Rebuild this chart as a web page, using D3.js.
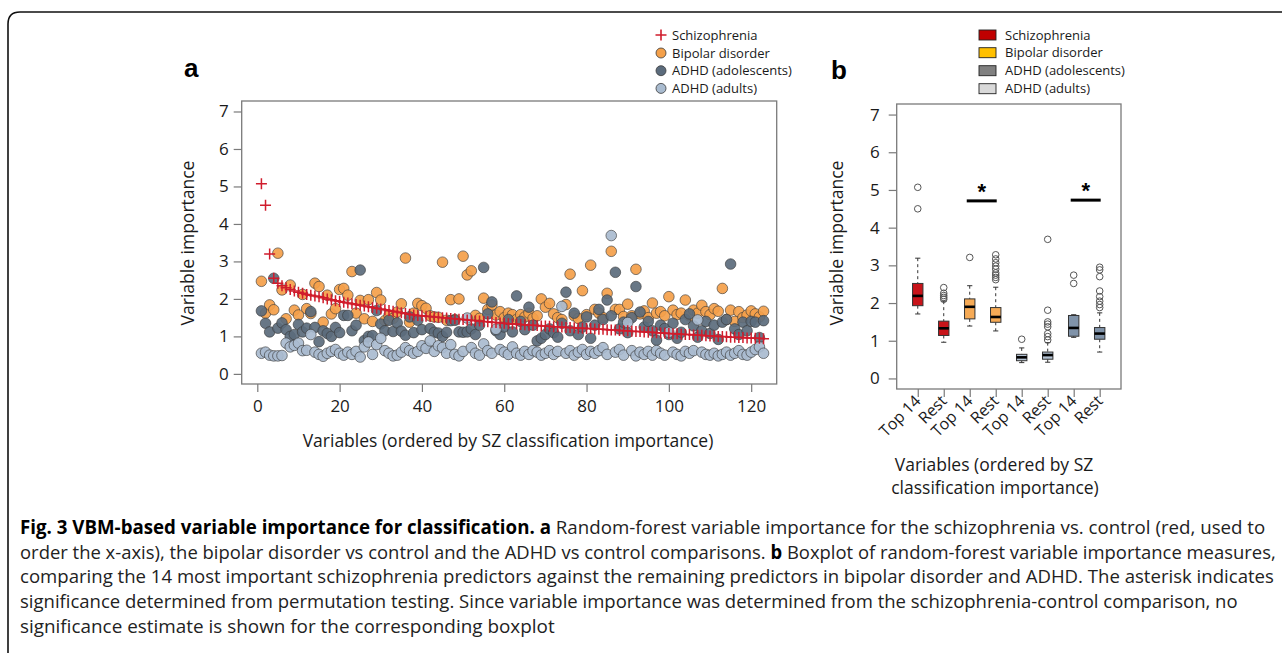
<!DOCTYPE html>
<html>
<head>
<meta charset="utf-8">
<script src="https://cdn.jsdelivr.net/npm/d3@7"></script>
<style>
  body { margin: 0; background: #fff; }
  svg { display: block; }
</style>
</head>
<body>
<script>
// ---- panel a data (variable index 1..123, ordered by SZ importance) ----
const szImportance = [
  5.07, 4.50, 3.20, 2.55, 2.42, 2.35, 2.30, 2.25, 2.21, 2.18,
  2.15, 2.12, 2.10, 2.08, 2.06, 2.03, 2.00, 1.98, 1.95, 1.93,
  1.91, 1.89, 1.87, 1.85, 1.83, 1.81, 1.79, 1.77, 1.75, 1.73,
  1.71, 1.69, 1.67, 1.65, 1.63, 1.61, 1.59, 1.57, 1.56, 1.55,
  1.54, 1.53, 1.52, 1.51, 1.50, 1.49, 1.48, 1.47, 1.46, 1.45,
  1.44, 1.43, 1.42, 1.41, 1.40, 1.39, 1.38, 1.37, 1.36, 1.35,
  1.34, 1.33, 1.33, 1.32, 1.31, 1.30, 1.30, 1.29, 1.28, 1.28,
  1.27, 1.26, 1.26, 1.25, 1.24, 1.24, 1.23, 1.22, 1.22, 1.21,
  1.21, 1.20, 1.19, 1.19, 1.18, 1.17, 1.17, 1.16, 1.15, 1.15,
  1.14, 1.13, 1.13, 1.12, 1.11, 1.11, 1.10, 1.09, 1.09, 1.08,
  1.07, 1.07, 1.06, 1.05, 1.05, 1.04, 1.03, 1.03, 1.02, 1.01,
  1.01, 1.00, 1.00, 0.99, 0.98, 0.98, 0.97, 0.97, 0.96, 0.96,
  0.95, 0.95, 0.94
];
const bdImportance = [
  2.47, 1.62, 1.84, 1.71, 3.22, 2.24, 1.47, 2.37, 1.70, 1.57,
  2.12, 1.74, 1.61, 2.42, 2.33, 1.38, 2.10, 1.60, 1.74, 2.25,
  2.28, 2.10, 2.73, 1.62, 1.96, 1.47, 1.98, 1.40, 2.17, 1.97,
  1.42, 1.56, 1.48, 1.65, 1.87, 3.09, 1.38, 1.62, 1.88, 1.82,
  1.75, 1.55, 1.52, 1.51, 2.98, 1.43, 1.98, 1.45, 2.00, 3.14,
  2.64, 2.75, 1.56, 1.48, 2.02, 1.72, 1.84, 1.57, 1.66, 1.50,
  1.62, 1.58, 1.45, 1.58, 1.52, 1.62, 1.48, 1.55, 2.00, 1.78,
  1.88, 1.60, 1.50, 1.45, 1.85, 2.66, 1.55, 1.48, 2.22, 1.58,
  2.90, 1.72, 1.62, 1.50, 2.15, 3.27, 1.72, 1.72, 1.53, 1.86,
  1.55, 2.79, 1.60, 1.68, 1.50, 1.89, 1.62, 1.66, 1.55, 2.06,
  1.70, 1.58, 1.62, 1.97, 1.55, 1.70, 1.62, 1.83, 1.66, 1.58,
  1.74, 1.67, 2.28, 1.45, 1.70, 1.40, 1.66, 1.50, 1.57, 1.68,
  1.60, 1.52, 1.67
];
const adolImportance = [
  1.68, 1.35, 1.12, 2.55, 1.22, 1.36, 1.18, 1.00, 1.05, 1.32,
  1.12, 1.22, 1.66, 1.24, 0.86, 1.15, 1.08, 1.00, 1.24, 1.10,
  1.56, 1.56, 1.15, 1.30, 2.77, 0.89, 1.00, 1.02, 1.69, 1.33,
  1.15, 1.43, 1.13, 1.36, 1.14, 1.03, 1.52, 1.10, 1.43, 1.18,
  0.71, 1.21, 1.11, 1.09, 1.00, 1.11, 1.42, 1.43, 1.12, 1.11,
  1.12, 1.20, 1.05, 1.30, 2.84, 1.60, 1.92, 1.15, 1.05, 1.25,
  1.45, 1.12, 2.08, 1.40, 1.18, 1.78, 1.30, 0.88, 0.95, 1.05,
  1.20, 1.10, 0.98, 1.35, 2.18, 1.15, 1.62, 1.05, 1.25, 1.52,
  0.95, 1.30, 1.72, 1.45, 1.97, 1.55, 2.71, 1.20, 1.38, 1.10,
  1.50, 2.33, 1.65, 1.25, 1.40, 1.15, 0.90, 1.30, 1.21, 1.05,
  1.35, 0.95, 1.11, 1.45, 1.60, 1.28, 0.98, 1.15, 1.40, 1.08,
  1.30, 0.92, 1.38, 1.45, 2.93, 1.20, 1.05, 1.38, 1.15, 1.40,
  1.38, 0.97, 1.42
];
const adultImportance = [
  0.55, 0.58, 0.50, 0.48, 0.48, 0.49, 0.82, 0.72, 0.76, 0.82,
  0.62, 0.63, 1.05, 0.58, 0.52, 0.47, 0.55, 0.60, 0.65, 0.55,
  0.50, 0.58, 0.52, 0.60, 0.45, 0.72, 0.85, 0.52, 0.78, 0.95,
  0.62, 0.55, 0.48, 0.50, 0.58, 0.70, 0.62, 0.55, 0.60, 0.75,
  0.68, 0.88, 0.60, 0.75, 0.70, 0.55, 0.78, 0.52, 0.48, 0.60,
  1.49, 0.70, 0.55, 0.50, 0.80, 0.62, 0.55, 1.19, 0.65, 0.58,
  0.52, 0.72, 0.55, 0.50, 0.60, 0.52, 0.62, 0.58, 0.50, 0.55,
  0.62, 0.52, 0.60, 1.80, 0.55, 0.62, 0.50, 0.58, 0.65, 0.52,
  0.60, 0.55, 0.62, 0.70, 0.52, 3.69, 0.58, 0.65, 0.50, 1.37,
  0.62, 0.48, 0.58, 0.52, 0.60, 0.50, 0.62, 0.55, 0.50, 1.11,
  0.58, 0.52, 0.48, 0.60, 0.55, 0.62, 1.44, 0.58, 0.52, 0.50,
  0.55, 0.48, 0.52, 0.58, 0.50, 0.55, 0.62, 0.52, 0.50, 0.58,
  0.65, 0.72, 0.55
];
const xTicksA = [0, 20, 40, 60, 80, 100, 120];
const yTicks = [0, 1, 2, 3, 4, 5, 6, 7];

// ---- panel b data (boxplot summaries) ----
const boxLabels = ["Top 14", "Rest", "Top 14", "Rest", "Top 14", "Rest", "Top 14", "Rest"];
const boxGroup = ["sz", "sz", "bd", "bd", "adult", "adult", "adol", "adol"];
const boxLow = [1.71, 0.96, 1.39, 1.26, 0.42, 0.43, 1.09, 0.70];
const boxQ1 = [1.93, 1.14, 1.58, 1.49, 0.47, 0.51, 1.12, 1.04];
const boxMedian = [2.19, 1.33, 1.90, 1.63, 0.56, 0.62, 1.34, 1.19];
const boxQ3 = [2.52, 1.52, 2.11, 1.88, 0.64, 0.70, 1.67, 1.35];
const boxHigh = [3.19, 2.05, 2.46, 2.42, 0.81, 0.95, 1.69, 1.74];
const boxOutliers = [
  [5.07, 4.50],
  [2.41, 2.26, 2.20, 2.15, 2.10],
  [3.21],
  [3.28, 3.17, 3.07, 2.98, 2.90, 2.80, 2.74, 2.68, 2.62],
  [1.04],
  [3.69, 1.81, 1.50, 1.44, 1.37, 1.19, 1.11, 1.02],
  [2.74, 2.52],
  [2.95, 2.88, 2.70, 2.32, 2.17, 2.05, 1.96, 1.88]
];
// pairs marked significant (box positions) and the bar height
const sigPairs = [[3, 4], [7, 8]];
const sigLevel = [4.71, 4.73];

const legendNames = ["Schizophrenia", "Bipolar disorder", "ADHD (adolescents)", "ADHD (adults)"];

const captionLines = [
  [["Fig. 3 VBM-based variable importance for classification.", true], [" ", false], ["a", true], [" Random-forest variable importance for the schizophrenia vs. control (red, used to", false]],
  [["order the x-axis), the bipolar disorder vs control and the ADHD vs control comparisons. ", false], ["b", true], [" Boxplot of random-forest variable importance measures,", false]],
  [["comparing the 14 most important schizophrenia predictors against the remaining predictors in bipolar disorder and ADHD. The asterisk indicates", false]],
  [["significance determined from permutation testing. Since variable importance was determined from the schizophrenia-control comparison, no", false]],
  [["significance estimate is shown for the corresponding boxplot", false]]
];
const captionWidths = [1246, 1256, 1255, 1218, 535];

// colours
const szRed = "#d01c2c";
const dotFill = { bd: "#f4a04a", adol: "#5b6b7c", adult: "#a9bbcf" };
const boxFill = { sz: "#c8141a", bd: "#f6aa55", adult: "#b3c2d3", adol: "#8093a9" };
const legendSwatch = ["#c00000", "#ffc000", "#808080", "#d9d9d9"];
const chartFont = "'Open Sans', 'Noto Sans', sans-serif";

const svg = d3.select("body").append("svg")
  .attr("width", 1282)
  .attr("height", 653)
  .style("font-family", chartFont);

// figure frame (rounded top-left corner)
svg.append("path")
  .attr("d", "M8,660 L8,24 Q8,12 20,12 L1290,12")
  .attr("fill", "none")
  .attr("stroke", "#111")
  .attr("stroke-width", 1.6);

// ================= panel a =================
const xA = d3.scaleLinear().domain([-3.79, 126.2]).range([241.7, 776.7]);
const yA = d3.scaleLinear().domain([-0.27, 7.28]).range([384, 101]);
const idx = szImportance.map((d, i) => i + 1);

const ga = svg.append("g");

ga.append("rect")
  .attr("x", xA.range()[0]).attr("y", yA.range()[1])
  .attr("width", xA.range()[1] - xA.range()[0])
  .attr("height", yA.range()[0] - yA.range()[1])
  .attr("fill", "none").attr("stroke", "#7a7a7a").attr("stroke-width", 1.3);

const axA_y = ga.append("g")
  .attr("transform", `translate(${xA.range()[0]},0)`)
  .call(d3.axisLeft(yA).tickValues(yTicks).tickSize(8).tickPadding(5).tickFormat(d3.format("d")));
const axA_x = ga.append("g")
  .attr("transform", `translate(0,${yA.range()[0]})`)
  .call(d3.axisBottom(xA).tickValues(xTicksA).tickSize(8).tickPadding(8).tickFormat(d3.format("d")));
[axA_y, axA_x].forEach(ax => {
  ax.select(".domain").remove();
  ax.selectAll("line").attr("stroke", "#7a7a7a").attr("stroke-width", 1.2);
  ax.selectAll("text").attr("fill", "#1a1a1a").style("font-size", "17px").style("font-family", chartFont);
});

// circle series
const series = [
  { key: "bd", values: bdImportance },
  { key: "adol", values: adolImportance },
  { key: "adult", values: adultImportance }
];
series.forEach(s => {
  ga.append("g").selectAll("circle")
    .data(idx)
    .join("circle")
    .attr("cx", i => xA(i))
    .attr("cy", i => yA(s.values[i - 1]))
    .attr("r", 5.3)
    .attr("fill", dotFill[s.key])
    .attr("fill-opacity", 0.92)
    .attr("stroke", "#3a3a3a")
    .attr("stroke-opacity", 0.8)
    .attr("stroke-width", 0.8);
});

// schizophrenia "+" markers on top
ga.append("g").selectAll("path")
  .data(idx)
  .join("path")
  .attr("d", i => {
    const cx = xA(i), cy = yA(szImportance[i - 1]);
    return `M${cx - 5.5},${cy}H${cx + 5.5}M${cx},${cy - 5.5}V${cy + 5.5}`;
  })
  .attr("stroke", szRed)
  .attr("stroke-width", 1.5);

ga.append("text")
  .attr("transform", "translate(194,243) rotate(-90)")
  .attr("text-anchor", "middle")
  .style("font-size", "17.5px")
  .attr("fill", "#1a1a1a")
  .text("Variable importance");
ga.append("text")
  .attr("x", 508).attr("y", 447)
  .attr("text-anchor", "middle")
  .style("font-size", "17.5px")
  .attr("fill", "#1a1a1a")
  .text("Variables (ordered  by SZ classification importance)");

ga.append("text")
  .attr("x", 184).attr("y", 77)
  .style("font-family", "'Liberation Sans', Arial, sans-serif")
  .style("font-size", "26px").style("font-weight", "bold")
  .text("a");

// legend a
const legA = ga.append("g").style("font-size", "13px");
const legAy = [35, 53, 70.7, 88.4];
legA.append("path")
  .attr("d", `M655.5,${legAy[0]}H666.5M661,${legAy[0] - 5.5}V${legAy[0] + 5.5}`)
  .attr("stroke", szRed).attr("stroke-width", 1.6);
["bd", "adol", "adult"].forEach((k, j) => {
  legA.append("circle")
    .attr("cx", 661).attr("cy", legAy[j + 1]).attr("r", 5)
    .attr("fill", dotFill[k]).attr("stroke", "#3a3a3a").attr("stroke-width", 0.8);
});
legA.selectAll("text")
  .data(legendNames)
  .join("text")
  .attr("x", 672).attr("y", (d, j) => legAy[j] + 4.5)
  .attr("fill", "#1a1a1a")
  .text(d => d);

// ================= panel b =================
const pos = boxLabels.map((d, i) => i + 1);
const xB = d3.scaleLinear().domain([0.19, 8.82]).range([896.7, 1121]);
const yB = d3.scaleLinear().domain([-0.28, 7.28]).range([389, 104]);
const boxW = xB(1.4) - xB(1);

const gb = svg.append("g");

gb.append("rect")
  .attr("x", xB.range()[0]).attr("y", yB.range()[1])
  .attr("width", xB.range()[1] - xB.range()[0])
  .attr("height", yB.range()[0] - yB.range()[1])
  .attr("fill", "none").attr("stroke", "#7a7a7a").attr("stroke-width", 1.3);

const axB_y = gb.append("g")
  .attr("transform", `translate(${xB.range()[0]},0)`)
  .call(d3.axisLeft(yB).tickValues(yTicks).tickSize(8).tickPadding(9).tickFormat(d3.format("d")));
const axB_x = gb.append("g")
  .attr("transform", `translate(0,${yB.range()[0]})`)
  .call(d3.axisBottom(xB).tickValues(pos).tickSize(8).tickFormat(""));
[axB_y, axB_x].forEach(ax => {
  ax.select(".domain").remove();
  ax.selectAll("line").attr("stroke", "#7a7a7a").attr("stroke-width", 1.2);
  ax.selectAll("text").attr("fill", "#1a1a1a").style("font-size", "17px").style("font-family", chartFont);
});

// rotated category labels
gb.selectAll("text.cat")
  .data(pos)
  .join("text")
  .attr("class", "cat")
  .attr("transform", p => `translate(${xB(p) + 4},${yB.range()[0] + 13}) rotate(-45)`)
  .attr("text-anchor", "end")
  .style("font-size", "16px")
  .attr("fill", "#1a1a1a")
  .text(p => boxLabels[p - 1]);

// boxes
const boxes = gb.selectAll("g.box")
  .data(pos)
  .join("g")
  .attr("class", "box");

boxes.append("line")
  .attr("x1", p => xB(p)).attr("x2", p => xB(p))
  .attr("y1", p => yB(boxHigh[p - 1])).attr("y2", p => yB(boxQ3[p - 1]))
  .attr("stroke", "#333").attr("stroke-dasharray", "3,3");
boxes.append("line")
  .attr("x1", p => xB(p)).attr("x2", p => xB(p))
  .attr("y1", p => yB(boxQ1[p - 1])).attr("y2", p => yB(boxLow[p - 1]))
  .attr("stroke", "#333").attr("stroke-dasharray", "3,3");
boxes.append("line")
  .attr("x1", p => xB(p) - boxW / 4).attr("x2", p => xB(p) + boxW / 4)
  .attr("y1", p => yB(boxHigh[p - 1])).attr("y2", p => yB(boxHigh[p - 1]))
  .attr("stroke", "#333");
boxes.append("line")
  .attr("x1", p => xB(p) - boxW / 4).attr("x2", p => xB(p) + boxW / 4)
  .attr("y1", p => yB(boxLow[p - 1])).attr("y2", p => yB(boxLow[p - 1]))
  .attr("stroke", "#333");
boxes.append("rect")
  .attr("x", p => xB(p) - boxW / 2)
  .attr("width", boxW)
  .attr("y", p => yB(boxQ3[p - 1]))
  .attr("height", p => yB(boxQ1[p - 1]) - yB(boxQ3[p - 1]))
  .attr("fill", p => boxFill[boxGroup[p - 1]])
  .attr("stroke", "#333").attr("stroke-width", 1);
boxes.append("line")
  .attr("x1", p => xB(p) - boxW / 2).attr("x2", p => xB(p) + boxW / 2)
  .attr("y1", p => yB(boxMedian[p - 1])).attr("y2", p => yB(boxMedian[p - 1]))
  .attr("stroke", "#000").attr("stroke-width", 2.6);
boxes.each(function(p) {
  d3.select(this).selectAll("circle")
    .data(boxOutliers[p - 1])
    .join("circle")
    .attr("cx", xB(p))
    .attr("cy", v => yB(v))
    .attr("r", 3.3)
    .attr("fill", "none")
    .attr("stroke", "#555")
    .attr("stroke-width", 1);
});

// significance bars
sigPairs.forEach((pr, j) => {
  gb.append("line")
    .attr("x1", xB(pr[0]) - 3).attr("x2", xB(pr[1]) + 1)
    .attr("y1", yB(sigLevel[j])).attr("y2", yB(sigLevel[j]))
    .attr("stroke", "#000").attr("stroke-width", 3);
  gb.append("text")
    .attr("x", (xB(pr[0]) + xB(pr[1])) / 2 - 1)
    .attr("y", yB(sigLevel[j]) - 2)
    .attr("text-anchor", "middle")
    .style("font-family", "'Liberation Sans', Arial, sans-serif")
    .style("font-size", "22px").style("font-weight", "bold")
    .text("*");
});

gb.append("text")
  .attr("transform", "translate(843,243) rotate(-90)")
  .attr("text-anchor", "middle")
  .style("font-size", "17.5px")
  .attr("fill", "#1a1a1a")
  .text("Variable importance");
gb.append("text")
  .attr("x", 994).attr("y", 471)
  .attr("text-anchor", "middle")
  .style("font-size", "17.5px")
  .attr("fill", "#1a1a1a")
  .text("Variables (ordered  by SZ");
gb.append("text")
  .attr("x", 995).attr("y", 494)
  .attr("text-anchor", "middle")
  .style("font-size", "17.5px")
  .attr("fill", "#1a1a1a")
  .text("classification importance)");

gb.append("text")
  .attr("x", 831).attr("y", 79)
  .style("font-family", "'Liberation Sans', Arial, sans-serif")
  .style("font-size", "26px").style("font-weight", "bold")
  .text("b");

// legend b
const legB = gb.append("g").style("font-size", "13px");
const legBy = [35, 52.7, 70.7, 88.7];
legB.selectAll("rect")
  .data(legendSwatch)
  .join("rect")
  .attr("x", 979).attr("y", (d, j) => legBy[j] - 5)
  .attr("width", 17).attr("height", 10)
  .attr("fill", d => d)
  .attr("stroke", "#222").attr("stroke-width", 0.9);
legB.selectAll("text")
  .data(legendNames)
  .join("text")
  .attr("x", 1005).attr("y", (d, j) => legBy[j] + 4.5)
  .attr("fill", "#1a1a1a")
  .text(d => d);

// ================= caption =================
// each line is squeezed horizontally to the width it has in the figure
const cap = svg.append("g")
  .style("font-family", "'Open Sans', 'Noto Sans', sans-serif")
  .style("font-size", "19px");
captionLines.forEach((segs, k) => {
  const t = cap.append("text")
    .attr("x", 0)
    .attr("y", 0)
    .attr("fill", "#222");
  segs.forEach(s => {
    t.append("tspan")
      .style("font-weight", s[1] ? "bold" : "normal")
      .attr("fill", s[1] ? "#000" : "#222")
      .text(s[0]);
  });
  const natural = t.node().getComputedTextLength();
  const sx = captionWidths[k] / natural;
  t.attr("transform", `translate(20,${534 + k * 24.7}) scale(${sx},1)`);
});
</script>
</body>
</html>
